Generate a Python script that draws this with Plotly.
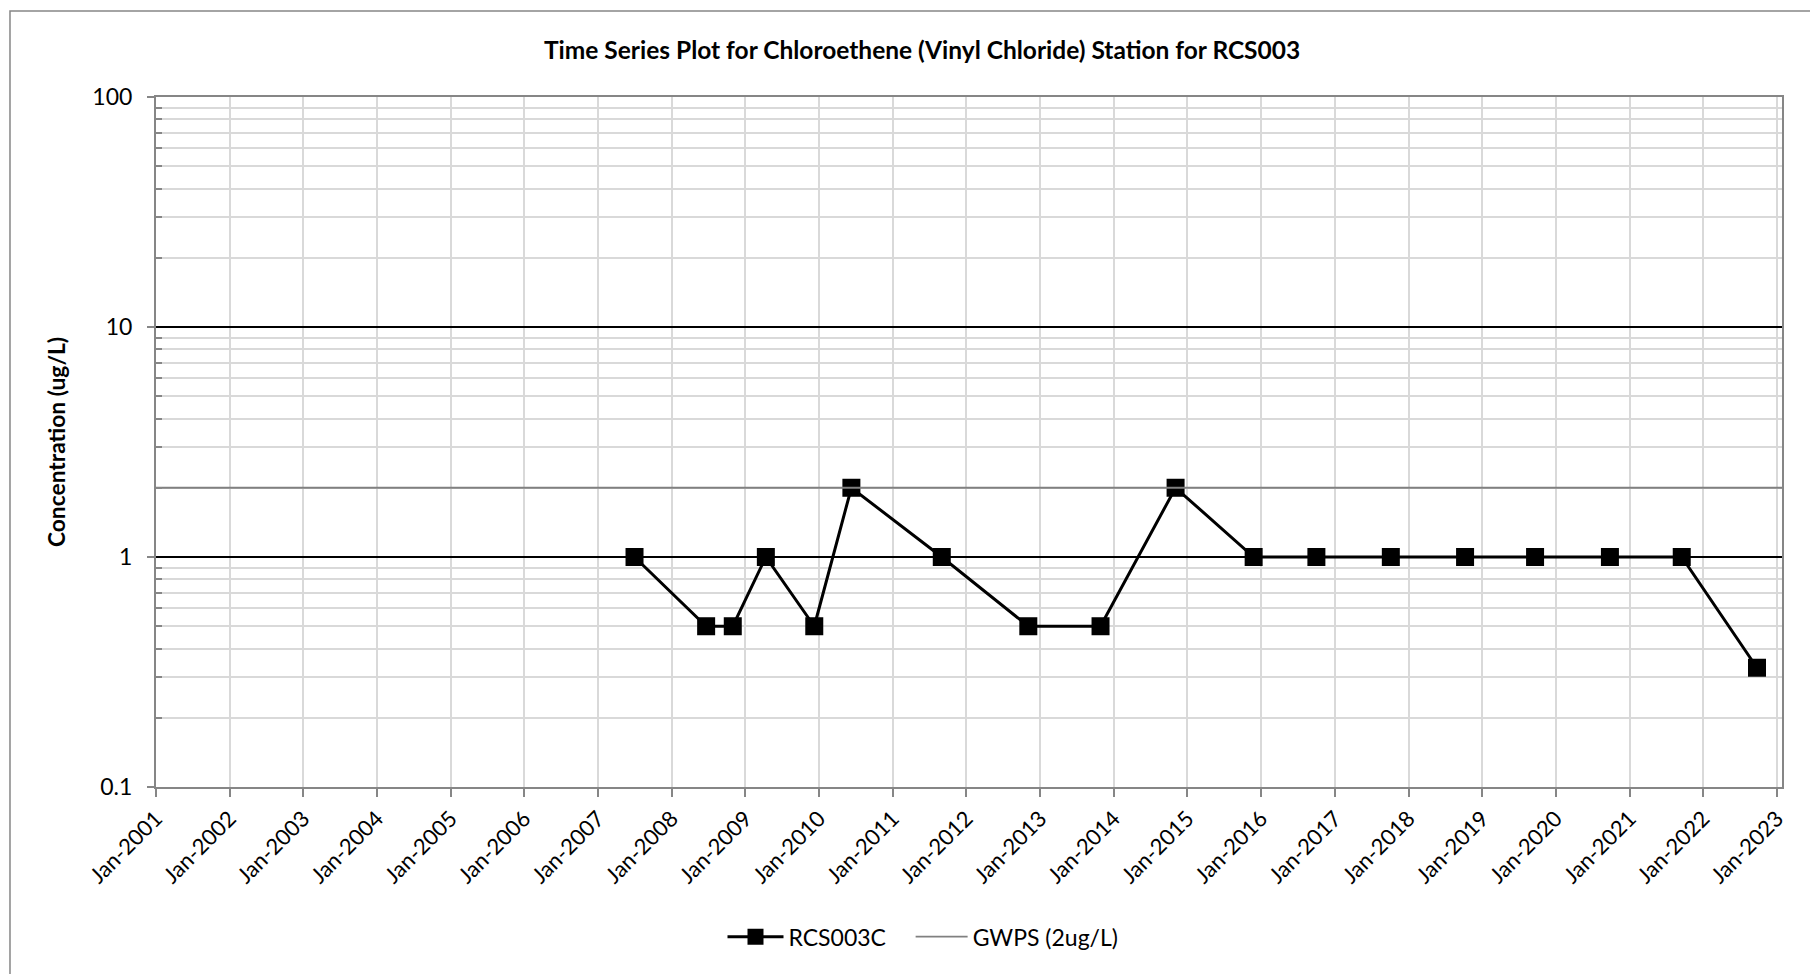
import plotly.graph_objects as go

# ---- data ----
sample_dates = ["2007-07-01", "2008-06-20", "2008-10-30", "2009-04-12", "2009-12-08",
                "2010-06-10", "2011-09-01", "2012-11-03", "2013-10-27", "2014-11-03",
                "2015-11-25", "2016-10-01", "2017-10-05", "2018-10-08", "2019-09-20",
                "2020-09-25", "2021-09-16", "2022-09-24"]
rcs003c_values = [1, 0.5, 0.5, 1, 0.5, 2, 1, 0.5, 0.5, 2, 1, 1, 1, 1, 1, 1, 1, 0.33]

gwps_value = 2
x_range = ["2001-01-01", "2023-01-26"]

y_tick_vals = [0.1, 1, 10, 100]
y_tick_text = ["0.1", "1", "10", "100"]
y_minor_vals = [m * d for d in (0.1, 1, 10) for m in range(2, 10)]

FONT = "Lato"
AXIS_GRAY = "#868686"
GRID_GRAY = "#d9d9d9"

fig = go.Figure()

fig.add_trace(go.Scatter(
    x=sample_dates, y=rcs003c_values, name="RCS003C",
    mode="lines+markers",
    line=dict(color="black", width=3),
    marker=dict(symbol="square", size=18, color="black"),
    legend="legend",
))

fig.add_trace(go.Scatter(
    x=x_range, y=[gwps_value, gwps_value], name="GWPS (2ug/L)",
    mode="lines",
    line=dict(color="#808080", width=1.8),
    legend="legend2",
))

legend_common = dict(
    orientation="h", yanchor="middle", y=-0.217, xanchor="left",
    font=dict(family=FONT, size=23, color="black"),
    bgcolor="rgba(0,0,0,0)",
)

fig.update_layout(
    width=1818, height=974,
    paper_bgcolor="white", plot_bgcolor="white",
    margin=dict(l=148, r=44, t=89, b=195),
    font=dict(family=FONT, size=22, color="black"),
    title=dict(
        text="<b>Time Series Plot for Chloroethene (Vinyl Chloride) Station for RCS003</b>",
        x=0.5028, xanchor="center", y=0.956, yanchor="middle",
        font=dict(family=FONT, size=24.5, color="black"),
    ),
    showlegend=True,
    legend=dict(legend_common, x=0.3484, itemwidth=56),
    legend2=dict(legend_common, x=0.4641, itemwidth=52),
    shapes=[dict(
        type="rect", xref="paper", yref="paper",
        x0=-0.0898, x1=1.05, y0=-0.35, y1=1.1246,
        line=dict(color=AXIS_GRAY, width=1.5), fillcolor="rgba(0,0,0,0)", layer="below",
    )],
)

fig.update_xaxes(
    type="date", range=x_range,
    tick0="2001-01-01", dtick="M12", tickformat="%b-%Y",
    tickangle=-45,
    ticks="outside", ticklen=8, tickcolor=AXIS_GRAY, tickwidth=1.5,
    showline=True, linecolor=AXIS_GRAY, linewidth=2, mirror=True,
    showgrid=True, gridcolor=GRID_GRAY, gridwidth=1.5,
    zeroline=False,
    tickfont=dict(family=FONT, size=22, color="black"),
)

fig.update_yaxes(
    type="log", range=[-1, 2],
    tickmode="array", tickvals=y_tick_vals, ticktext=y_tick_text,
    ticks="outside", ticklen=7, tickcolor=AXIS_GRAY, tickwidth=1.5,
    ticklabelstandoff=10,
    showline=True, linecolor=AXIS_GRAY, linewidth=2, mirror=True,
    showgrid=True, gridcolor="black", gridwidth=1.5,
    minor=dict(tickmode="array", tickvals=y_minor_vals, ticks="inside", ticklen=6,
               tickcolor=AXIS_GRAY, tickwidth=1.5,
               showgrid=True, gridcolor=GRID_GRAY, gridwidth=1.5),
    zeroline=False,
    title=dict(text="<b>Concentration (ug/L)</b>", standoff=20,
               font=dict(family=FONT, size=22.8, color="black")),
    tickfont=dict(family=FONT, size=23, color="black"),
)

fig.write_html("out.html")
